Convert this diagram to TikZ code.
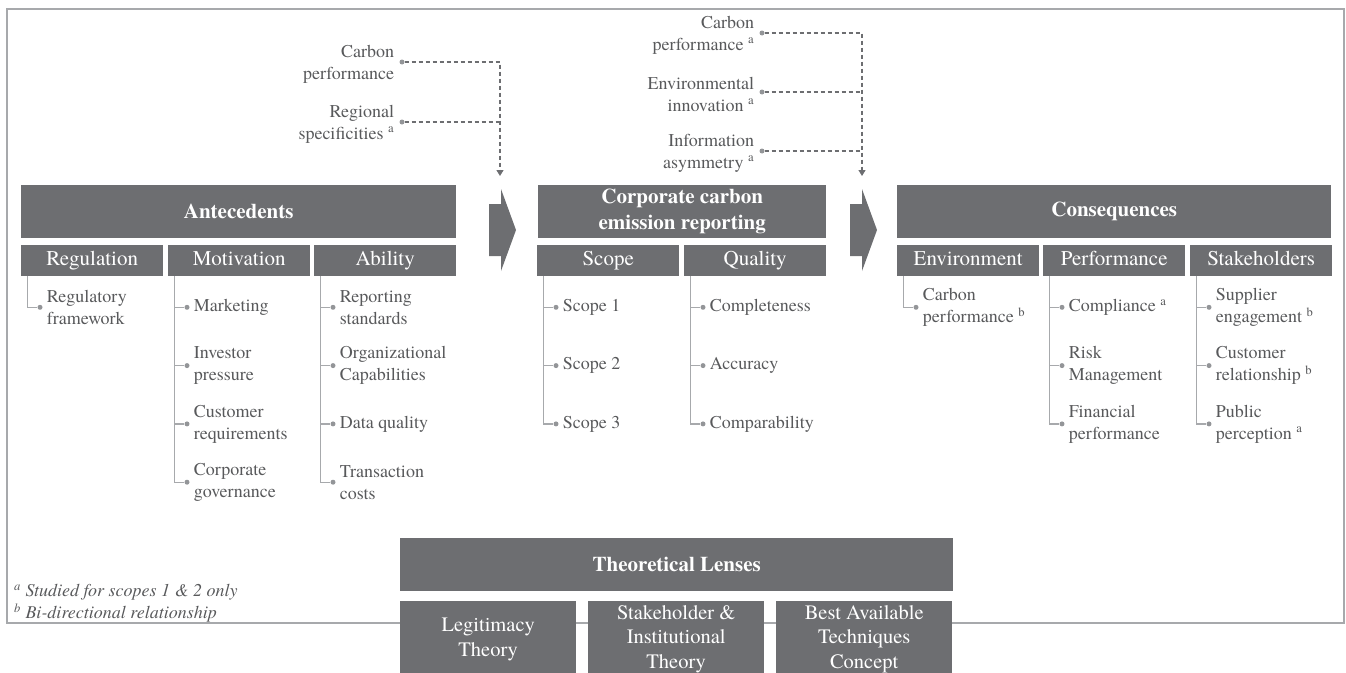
\documentclass[tikz,border=0pt]{standalone}
\usepackage{fontspec}
\setmainfont{texgyretermes}[Extension=.otf, UprightFont=*-regular, BoldFont=*-bold,
  ItalicFont=*-italic, BoldItalicFont=*-bolditalic]
\usetikzlibrary{positioning,arrows.meta}
\definecolor{boxgray}{HTML}{6D6E71}
\definecolor{txtgray}{HTML}{58595B}
\definecolor{linegray}{HTML}{A7A9AC}
\definecolor{dotgray}{HTML}{939598}
\tikzset{
  bar/.style={fill=boxgray, text=white, font=\bfseries\fontsize{21}{26}\selectfont, align=center,
    minimum height=53, inner sep=0, anchor=north west},
  sub/.style={fill=boxgray, text=white, font=\fontsize{21}{24}\selectfont, text height=14, text depth=4.5,
    minimum width=142, minimum height=31, inner sep=0, anchor=north west},
  theo/.style={fill=boxgray, text=white, font=\fontsize{20.5}{24.5}\selectfont, align=center,
    minimum width=176, minimum height=76, inner sep=0, anchor=north west},
  item/.style={text=txtgray, font=\fontsize{18}{22}\selectfont, align=left, inner sep=0, anchor=west},
  note/.style={item, align=right, yshift=-2pt},
  foot/.style={text=txtgray, font=\itshape\fontsize{18}{21}\selectfont, inner sep=0, anchor=west},
  dot/.style={circle, fill=dotgray, inner sep=0, minimum size=5},
  tree/.style={draw=linegray, line width=1.3},
  dashlink/.style={draw=boxgray, line width=1.3, dash pattern=on 4pt off 3pt}
}
\begin{document}
\begin{tikzpicture}[x=1pt,y=-1pt]
\useasboundingbox (0,0) rectangle (1346,672);
\clip (0,0) rectangle (1346,672);
\draw[linegray, line width=1.3] (7,9) rectangle (1344,623);

\node[bar, minimum width=435] (ante) at (21,185) {Antecedents};
\node[bar, minimum width=288] (ccer) at (538,185) {Corporate carbon\\emission reporting};
\node[bar, minimum width=434] (cons) at (897,185) {Consequences};

\foreach \cx in {489,850}
  \fill[boxgray] (\cx,204) -- ++(12,0) -- ++(0,-15) -- ++(15,41) -- ++(-15,41) -- ++(0,-15) -- ++(-12,0) -- cycle;

\foreach \n/\x/\t/\items in {
    reg/21/Regulation/{{Regulatory\\framework}},
    mot/168/Motivation/{Marketing,{Investor\\pressure},{Customer\\requirements},{Corporate\\governance}},
    abil/314/Ability/{{Reporting\\standards},{Organizational\\Capabilities},Data quality,{Transaction\\costs}},
    scope/537/Scope/{Scope 1,Scope 2,Scope 3},
    qual/684/Quality/{Completeness,Accuracy,Comparability},
    env/897/Environment/{{Carbon\\performance \textsuperscript{b}}},
    perf/1043/Performance/{Compliance \textsuperscript{a},{Risk\\Management},{Financial\\performance}},
    stake/1190/Stakeholders/{{Supplier\\engagement \textsuperscript{b}},{Customer\\relationship \textsuperscript{b}},{Public\\perception \textsuperscript{a}}}}
{
  \node[sub] (\n) at (\x,245) {\t};
  \foreach \lbl [count=\i] in \items {
    \pgfmathsetmacro{\yy}{249+58.3*\i}
    \node[dot] (\n\i) at (\x+19,\yy) {};
    \node[item, right=4pt of \n\i] (\n\i t) {\lbl};
    \draw[tree] ([xshift=6.5pt]\n.south west) |- (\n\i);
  }
}

\node[dot] (cp) at (402,62) {};
\node[note, left=5pt of cp] (cpt) {Carbon\\performance};
\node[dot] (rs) at (402,122) {};
\node[note, left=5pt of rs] (rst) {Regional\\specificities \textsuperscript{a}};
\coordinate (tipa) at (500,176);
\draw[dashlink, -{Triangle[width=7pt,length=6pt]}] (cp) -| (tipa);
\draw[dashlink] (rs) -- (rs -| tipa);

\node[dot] (cpb) at (762,33) {};
\node[note, left=5pt of cpb] (cpbt) {Carbon\\performance \textsuperscript{a}};
\node[dot] (ei) at (762,92) {};
\node[note, left=5pt of ei] (eit) {Environmental\\innovation \textsuperscript{a}};
\node[dot] (ia) at (762,151) {};
\node[note, left=5pt of ia] (iat) {Information\\asymmetry \textsuperscript{a}};
\coordinate (tipb) at (862,176);
\draw[dashlink, -{Triangle[width=7pt,length=6pt]}] (cpb) -| (tipb);
\draw[dashlink] (ei) -- (ei -| tipb);
\draw[dashlink] (ia) -- (ia -| tipb);

\node[foot] (fna) at (14,592) {\textsuperscript{a} Studied for scopes 1 \& 2 only};
\node[foot] (fnb) at (14,613) {\textsuperscript{b} Bi-directional relationship};

\node[bar, minimum width=553] (lens) at (400,538) {Theoretical Lenses};
\foreach \n/\x/\t in {legit/400/{Legitimacy\\Theory}, sit/588/{Stakeholder \&\\Institutional\\Theory}, bat/776/{Best Available\\Techniques\\Concept}}
  \node[theo] (\n) at (\x,601) {\t};
\end{tikzpicture}
\end{document}
